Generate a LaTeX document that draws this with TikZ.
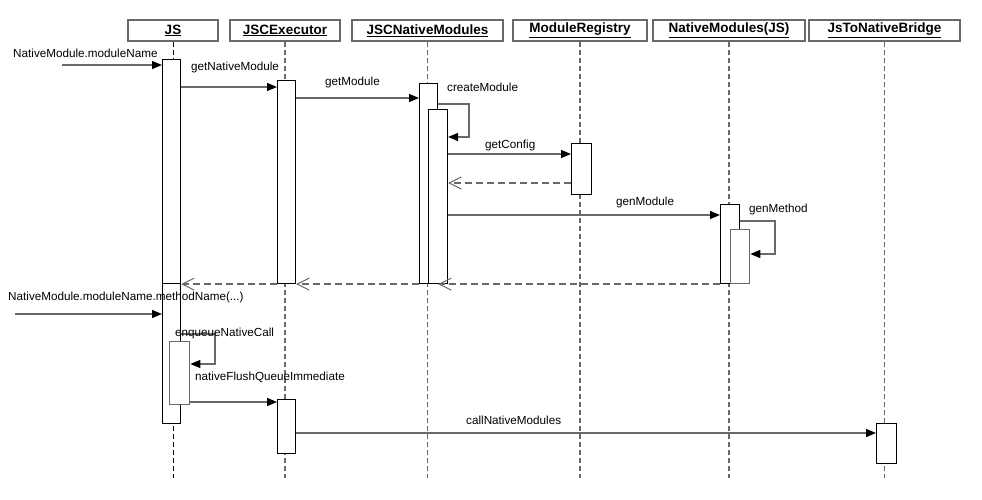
\documentclass[tikz,border=0pt]{standalone}
\usepackage{fontspec}
\setmainfont{Liberation Sans}
\usetikzlibrary{arrows.meta}

\definecolor{lineGray}{RGB}{105,105,105}

\begin{document}
\begin{tikzpicture}[x=1pt,y=-1pt,
    head/.style={draw=lineGray,line width=1.3pt,inner sep=0pt,minimum height=21pt,
      font=\fontsize{13.5}{15}\selectfont\bfseries},
    life/.style={lineGray,line width=1.2pt,dash pattern=on 5pt off 3pt},
    bar/.style={draw=black,fill=white,line width=1.1pt,inner sep=0pt,anchor=north west},
    graybar/.style={bar,draw=lineGray,line width=1.3pt},
    msg/.style={lineGray,line width=1.3pt,-{Triangle[length=10pt,width=8pt,black]}},
    ret/.style={lineGray,line width=1.3pt,dash pattern=on 7pt off 4pt,
      -{Straight Barb[length=12pt,width=12pt,line width=1pt]}},
    lbl/.style={anchor=west,inner sep=0pt,font=\fontsize{11.7}{13}\selectfont}]
  \useasboundingbox (0,0) rectangle (982,500);

  % header boxes
  \node[head,minimum width=90pt]  (hJS)  at (173,30.5)   {\underline{JS}};
  \node[head,minimum width=110pt] (hEx)  at (285,30.5)   {\underline{JSCExecutor}};
  \node[head,minimum width=151pt] (hNM)  at (427.5,30.5) {\underline{JSCNativeModules}};
  \node[head,minimum width=134pt] (hMR)  at (580,30.5)   {\underline{ModuleRegistry}};
  \node[head,minimum width=152pt] (hNJ)  at (729,30.5)   {\underline{NativeModules(JS)}};
  \node[head,minimum width=151pt] (hBr)  at (884.5,30.5) {\underline{JsToNativeBridge}};

  % life lines
  \draw[life,black,line width=1pt] (hJS.south) -- (hJS.south |- 0,478);
  \foreach \h in {hEx,hNM,hMR,hNJ,hBr}
    \draw[life] (\h.south) -- (\h.south |- 0,478);

  % activation bars
  \node[bar,minimum width=18pt,minimum height=224pt] (js1) at (162,59)  {};
  \node[bar,minimum width=18pt,minimum height=140pt] (js2) at (162,283) {};
  \node[graybar,minimum width=20pt,minimum height=63pt] (js3) at (169,341) {};
  \node[bar,minimum width=18pt,minimum height=203pt] (ex1) at (277,80)  {};
  \node[bar,minimum width=18pt,minimum height=54pt]  (ex2) at (277,399) {};
  \node[bar,minimum width=18pt,minimum height=200pt] (nm1) at (419,83)  {};
  \node[bar,minimum width=19pt,minimum height=174pt] (nm2) at (428,109) {};
  \node[bar,minimum width=20pt,minimum height=51pt]  (mr1) at (571,143) {};
  \node[bar,minimum width=19pt,minimum height=79pt]  (nj1) at (720,204) {};
  \node[graybar,minimum width=19pt,minimum height=54pt] (nj2) at (730,229) {};
  \node[bar,minimum width=20pt,minimum height=40pt]  (br1) at (876,423) {};

  % first call: NativeModule.moduleName
  \coordinate (in1) at (62,65);
  \draw[msg] (in1) -- (in1 -| js1.west);
  \node[lbl] (l1) at (13,53) {NativeModule.moduleName};
  \draw[msg] (js1.east |- 0,87) -- (ex1.west |- 0,87);
  \node[lbl] (l2) at (191,67) {getNativeModule};
  \draw[msg] (ex1.east |- 0,98) -- (nm1.west |- 0,98);
  \node[lbl] (l3) at (325,82) {getModule};
  % createModule (self call)
  \draw[msg] (nm1.east |- 0,104) -| (469,137) -- (nm2.east |- 0,137);
  \node[lbl] (l4) at (447,87) {createModule};
  \draw[msg] (nm2.east |- 0,154) -- (mr1.west |- 0,154);
  \node[lbl] (l5) at (485,145) {getConfig};
  \draw[ret] (mr1.west |- 0,183) -- (nm2.east |- 0,183);
  \draw[msg] (nm2.east |- 0,215) -- (nj1.west |- 0,215);
  \node[lbl] (l6) at (616,202) {genModule};
  % genMethod (self call)
  \draw[msg] (nj1.east |- 0,221) -| (775,254) -- (nj2.east |- 0,254);
  \node[lbl] (l7) at (749,209) {genMethod};
  % returns
  \draw[ret] (nj1.south west) -- (nm1.south east);
  \draw[ret] (nm1.south west) -- (ex1.south east);
  \draw[ret] (ex1.south west) -- (js1.south east);

  % second call: NativeModule.moduleName.methodName(...)
  \coordinate (in2) at (15,314);
  \draw[msg] (in2) -- (in2 -| js2.west);
  \node[lbl] (l8) at (8,297) {NativeModule.moduleName.methodName(...)};
  % enqueueNativeCall (self call)
  \draw[msg] (js2.east |- 0,334) -| (215,364) -- (js3.east |- 0,364);
  \node[lbl] (l9) at (175,333) {enqueueNativeCall};
  \draw[msg] (js3.east |- 0,402) -- (ex2.west |- 0,402);
  \node[lbl] (l10) at (195,377) {nativeFlushQueueImmediate};
  \draw[msg] (ex2.east |- 0,433) -- (br1.west |- 0,433);
  \node[lbl] (l11) at (466,420) {callNativeModules};
\end{tikzpicture}
\end{document}
